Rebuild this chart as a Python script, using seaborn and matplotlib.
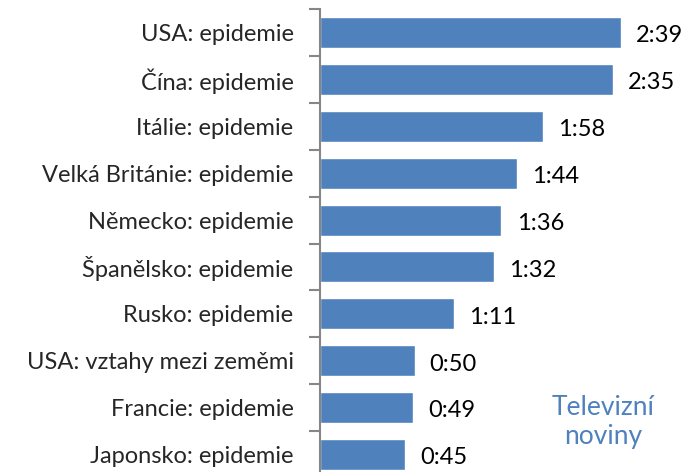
import matplotlib
matplotlib.use("Agg")
import matplotlib.pyplot as plt
import seaborn as sns
import pandas as pd

# Airtime of top news topics (minutes)
categories = [
    "USA: epidemie",
    "Čína: epidemie",
    "Itálie: epidemie",
    "Velká Británie: epidemie",
    "Německo: epidemie",
    "Španělsko: epidemie",
    "Rusko: epidemie",
    "USA: vztahy mezi zeměmi",
    "Francie: epidemie",
    "Japonsko: epidemie",
]
minutes = [159, 155, 118, 104, 96, 92, 71, 50, 49, 45]

bar_color = "#4F81BD"
axis_gray = "#868686"

sns.set_style("white")
plt.rcParams["font.family"] = ["Lato", "DejaVu Sans"]

df = pd.DataFrame({"topic": categories, "minutes": minutes})

fig = plt.figure(figsize=(6.86, 4.72), dpi=100)
ax = fig.add_axes([320 / 686, -6 / 472, 1 - 320 / 686, 469 / 472])

sns.barplot(data=df, x="minutes", y="topic", color=bar_color, saturation=1,
            width=0.66, ax=ax)

ax.set_xlim(0, 193.6)
ax.set_ylim(len(categories) - 0.5, -0.5)

# value labels as h:mm
for i, m in enumerate(minutes):
    ax.text(m + 8, i + 0.07, f"{m // 60}:{m % 60:02d}", va="center", ha="left",
            fontsize=17, color="black")

# category axis: gray spine with ticks between categories
for side in ["top", "right", "bottom"]:
    ax.spines[side].set_visible(False)
ax.spines["left"].set_color(axis_gray)
ax.spines["left"].set_linewidth(1.5)
ax.set_xticks([])
ax.set_yticks(range(len(categories)))
ax.set_yticklabels(categories, fontsize=17)
ax.set_yticks([i - 0.5 for i in range(len(categories) + 1)], minor=True)
ax.tick_params(axis="y", which="major", length=0, pad=19)
ax.tick_params(axis="y", which="minor", length=8, width=1.5, color=axis_gray, left=True)
ax.set_xlabel("")
ax.set_ylabel("")

fig.text(603 / 686, 1 - 422 / 472, "Televizní\nnoviny", ha="center", va="center",
         fontsize=19, color=bar_color, linespacing=1.2)

fig.savefig("out.png", dpi=100)
